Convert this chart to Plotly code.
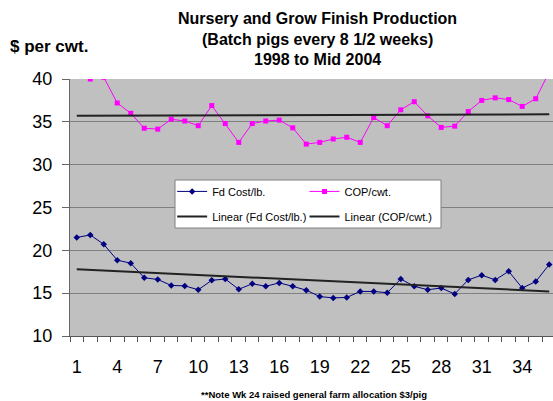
import plotly.graph_objects as go

# ---- data ----
batches = list(range(1, 37))
fd_cost = [21.5, 21.8, 20.7, 18.85, 18.5, 16.8, 16.6, 15.9, 15.85, 15.4, 16.5, 16.65,
           15.45, 16.1, 15.8, 16.2, 15.8, 15.35, 14.6, 14.45, 14.5, 15.2, 15.2, 15.05,
           16.65, 15.8, 15.4, 15.6, 14.9, 16.55, 17.1, 16.55, 17.55, 15.6, 16.35, 18.35]
cop_cwt = [40.6, 40.0, 40.2, 37.2, 36.0, 34.25, 34.15, 35.3, 35.1, 34.55, 36.9, 34.8,
           32.6, 34.8, 35.1, 35.2, 34.3, 32.4, 32.6, 33.0, 33.2, 32.6, 35.5, 34.55,
           36.4, 37.35, 35.7, 34.35, 34.5, 36.2, 37.5, 37.8, 37.6, 36.8, 37.7, 40.8]
trend_x = [1, 36]
fd_trend = [17.8, 15.2]
cop_trend = [35.72, 35.88]
tick_vals = list(range(1, 36, 3))
tick_text = [str(v) for v in tick_vals]

FONT = "Liberation Sans, Arial, sans-serif"

fig = go.Figure()
fig.add_trace(go.Scatter(x=batches, y=fd_cost, name="Fd Cost/lb.", mode="lines+markers",
                         line=dict(color="#000080", width=1),
                         marker=dict(symbol="diamond", size=5, color="#000080"),
                         legend="legend", legendgroup="a"))
fig.add_trace(go.Scatter(x=batches, y=cop_cwt, name="COP/cwt.", mode="lines+markers",
                         line=dict(color="#FF00FF", width=1),
                         marker=dict(symbol="square", size=5, color="#FF00FF"),
                         legend="legend2", legendgroup="c"))
fig.add_trace(go.Scatter(x=trend_x, y=fd_trend, name="Linear (Fd Cost/lb.)", mode="lines",
                         line=dict(color="#222222", width=2),
                         legend="legend", legendgroup="b"))
fig.add_trace(go.Scatter(x=trend_x, y=cop_trend, name="Linear (COP/cwt.)", mode="lines",
                         line=dict(color="#222222", width=2),
                         legend="legend2", legendgroup="d"))

leg_common = dict(yanchor="top", xanchor="left", y=0.619, bgcolor="rgba(0,0,0,0)",
                  borderwidth=0, font=dict(size=11, family=FONT),
                  traceorder="grouped", tracegroupgap=6, orientation="v")

fig.update_layout(
    width=553, height=401,
    margin=dict(l=70, r=0, t=79, b=65),
    paper_bgcolor="white",
    plot_bgcolor="#C0C0C0",
    font=dict(family=FONT, color="black"),
    legend=dict(x=0.2115, **leg_common),
    legend2=dict(x=0.4855, **leg_common),
    xaxis=dict(range=[0.5, 36.28], tickmode="array", tickvals=tick_vals, ticktext=tick_text,
               ticks="", showgrid=False, zeroline=False, showline=True, linecolor="#555555",
               tickfont=dict(size=18), ticklabelstandoff=14,
               minor=dict(tick0=0.5, dtick=1, ticks="outside", ticklen=5,
                          tickcolor="#555555", showgrid=False)),
    yaxis=dict(range=[10, 40], dtick=5, ticks="outside", ticklen=7, tickcolor="#666666",
               showline=True, linecolor="#666666", gridcolor="#808080", gridwidth=1,
               zeroline=False, tickfont=dict(size=18), ticklabelstandoff=6),
)

# legend frame
fig.add_shape(type="rect", xref="paper", yref="paper", x0=0.2174, x1=0.7681,
              y0=0.4202, y1=0.607, fillcolor="white", line=dict(color="#808080", width=1),
              layer="above")

anns = [
    ("<b>Nursery and Grow Finish Production</b>", 0.5114, 1.2335),
    ("<b>(Batch pigs every 8 1/2 weeks)</b>", 0.5114, 1.1556),
    ("<b>1998 to Mid 2004</b>", 0.5114, 1.0778),
]
for text, x, y in anns:
    fig.add_annotation(text=text, x=x, y=y, xref="paper", yref="paper", showarrow=False,
                       xanchor="center", yanchor="middle", font=dict(size=16, family=FONT))
fig.add_annotation(text="<b>$ per cwt.</b>", x=-0.1284, y=1.1284, xref="paper", yref="paper",
                   showarrow=False, xanchor="left", yanchor="middle",
                   font=dict(size=17, family=FONT))
fig.add_annotation(text="<b>**Note Wk 24 raised general farm allocation $3/pig</b>",
                   x=0.5052, y=-0.2257, xref="paper", yref="paper", showarrow=False,
                   xanchor="center", yanchor="middle", font=dict(size=9.5, family=FONT))

fig.write_html("out.html", config={"displayModeBar": False},
               post_script="document.body.style.margin='0';document.body.style.overflow='hidden';")
